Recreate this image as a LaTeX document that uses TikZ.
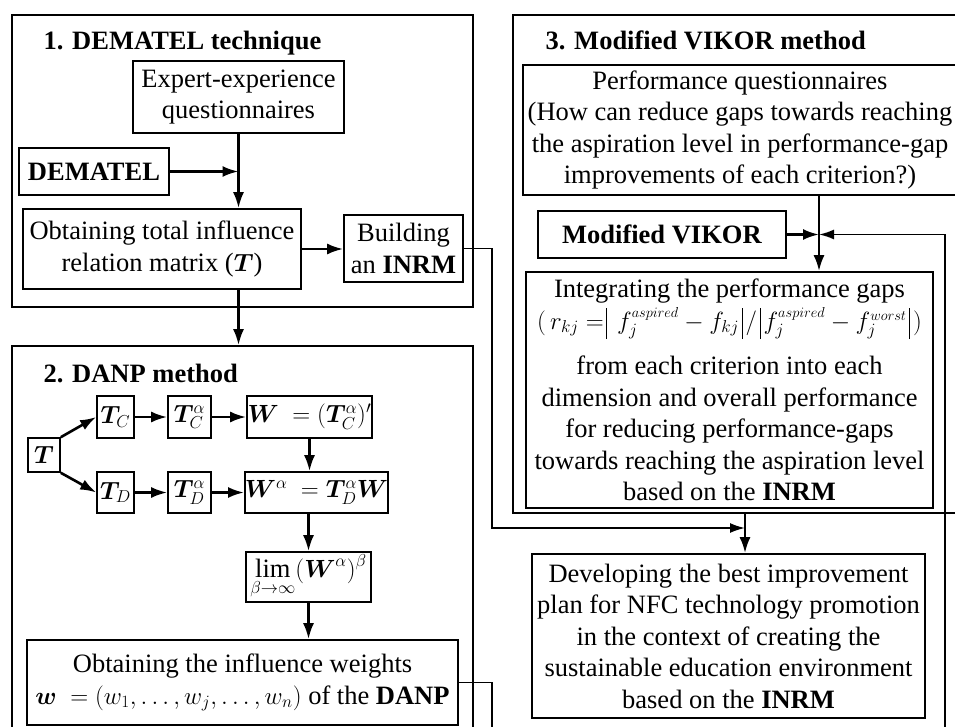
\documentclass[tikz,border=0pt]{standalone}
\usepackage{amsmath}
\usepackage{bm}
\usepackage{fontspec}
\setmainfont{Liberation Serif}
\usetikzlibrary{arrows.meta}
\newcommand{\absbar}{\mskip2mu\vrule height 21pt depth 10pt width 1pt\mskip2mu}
\begin{document}
\begin{tikzpicture}[x=1pt,y=-1pt,
  txt/.style={font=\fontsize{26.5}{31.5}\selectfont},
  box/.style={draw, line width=1.6pt, align=center, inner sep=0pt, txt},
  frame/.style={draw, line width=1.6pt, inner sep=0pt},
  ttl/.style={anchor=base west, font=\fontsize{26.5}{31.5}\selectfont\bfseries},
  arr/.style={line width=2.6pt, -{Latex[length=16pt,width=11pt]}},
  conn/.style={line width=1.6pt},
  connarr/.style={line width=1.8pt, -{Latex[length=15pt,width=10pt]}}]
\useasboundingbox (0,0) rectangle (955,727);
\clip (0,0) rectangle (955,727);
% ---------- Box 1 ----------
\node[frame, minimum width=461pt, minimum height=292pt] (box1) at (242.5,161) {};
\node[ttl] (t1) at (40,50) {1. DEMATEL technique};
\node[box, minimum width=211pt, minimum height=72pt] (expert) at (238.5,97) {Expert-experience\\questionnaires};
\node[box, minimum width=150pt, minimum height=47pt] (dematel) at (94,171.5) {\textbf{DEMATEL}};
\node[box, minimum width=278pt, minimum height=80pt] (obtT) at (162,249) {Obtaining total influence\\relation matrix ($\bm{T}$)};
\node[box, minimum width=119pt, minimum height=67pt] (build) at (403.5,248.5) {Building\\an \textbf{INRM}};
% ---------- Box 2 ----------
\node[frame, minimum width=461pt, minimum height=430pt] (box2) at (242.5,561) {};
\node[ttl] (t2) at (40,382) {2. DANP method};
\node[box, minimum width=32pt, minimum height=34pt] (T) at (44,455) {$\bm{T}$};
\node[box, minimum width=37pt, minimum height=42pt] (TC) at (115.5,417) {$\bm{T}_{C}$};
\node[box, minimum width=43pt, minimum height=42pt] (TCa) at (189.5,417) {$\bm{T}_{C}^{\alpha}$};
\node[box, minimum width=125pt, minimum height=42pt] (W) at (309.5,417) {$\bm{W}\ = (\bm{T}_{C}^{\alpha})'$};
\node[box, minimum width=37pt, minimum height=41pt] (TD) at (115.5,492.5) {$\bm{T}_{D}$};
\node[box, minimum width=43pt, minimum height=41pt] (TDa) at (189.5,492.5) {$\bm{T}_{D}^{\alpha}$};
\node[box, minimum width=139pt, minimum height=41pt] (Wa) at (316.5,492.5) {$\bm{W}^{\alpha}\ = \bm{T}_{D}^{\alpha}\bm{W}$};
\node[box, minimum width=125pt, minimum height=50pt] (lim) at (308.5,577) {$\displaystyle\lim_{\beta\to\infty}(\bm{W}^{\alpha})^{\beta}$};
\node[box, minimum width=431pt, minimum height=85pt] (weights) at (242.5,682.5) {Obtaining the influence weights\\$\bm{w}\ = (w_{1},\ldots,w_{j},\ldots,w_{n})$ of the \textbf{DANP}};
% ---------- Box 3 ----------
\node[frame, minimum width=452pt, minimum height=498pt] (box3) at (739,264) {};
\node[ttl] (t3) at (542,50) {3. Modified VIKOR method};
\node[box, minimum width=434pt, minimum height=130pt] (perf) at (740,130) {Performance questionnaires\\(How can reduce gaps towards reaching\\the aspiration level in performance-gap\\improvements of each criterion?)};
\node[box, minimum width=248pt, minimum height=47pt] (mvikor) at (662,234.5) {\textbf{Modified VIKOR}};
\node[box, minimum width=407pt, minimum height=236pt] (integ) at (729.5,390) {Integrating the performance gaps\\[0pt]
$(\,r_{kj}=\absbar f_{j}^{\scriptscriptstyle aspired}-f_{kj}\absbar/\absbar f_{j}^{\scriptscriptstyle aspired}-f_{j}^{\scriptscriptstyle worst}\absbar)$\\[14pt]
from each criterion into each\\dimension and overall performance\\for reducing performance-gaps\\towards reaching the aspiration level\\based on the \textbf{INRM}};
\node[box, minimum width=393pt, minimum height=164pt] (dev) at (728.5,636) {Developing the best improvement\\plan for NFC technology promotion\\in the context of creating the\\sustainable education environment\\based on the \textbf{INRM}};
% ---------- coordinates ----------
\coordinate (J) at (819,234.5);
\coordinate (R) at (945,740);
\coordinate (K) at (492,528);
\coordinate (M) at (745,528);
\coordinate (B1) at (492,740);
% ---------- connectors box 1 ----------
\draw[arr] (expert.south) -- (expert.south |- obtT.north);
\draw[arr] (dematel.east) -- (expert.south |- dematel.east);
\draw[arr] (obtT.east) -- (obtT.east -| build.west);
\draw[arr] (expert.south |- obtT.south) -- (expert.south |- box2.north);
% ---------- connectors box 2 ----------
\draw[arr] (T.north east) -- (TC.west);
\draw[arr] (T.south east) -- (TD.west);
\draw[arr] (TC.east) -- (TCa.west);
\draw[arr] (TCa.east) -- (W.west);
\draw[arr] (TD.east) -- (TDa.west);
\draw[arr] (TDa.east) -- (Wa.west);
\draw[arr] (W.south) -- (W.south |- Wa.north);
\draw[arr] (lim.north |- Wa.south) -- (lim.north);
\draw[arr] (lim.south) -- (lim.south |- weights.north);
% ---------- connectors box 3 ----------
\draw[arr] (perf.south -| J) -- (integ.north -| J);
\draw[arr] (mvikor.east) -- (J);
\draw[connarr] (R) |- (J);
\draw[arr] (box3.south -| M) -- (dev.north -| M);
% ---------- long connectors ----------
\draw[connarr] (build.east) -| (K) -- (M);
\draw[conn] (weights.east) -| (B1);
\end{tikzpicture}
\end{document}
